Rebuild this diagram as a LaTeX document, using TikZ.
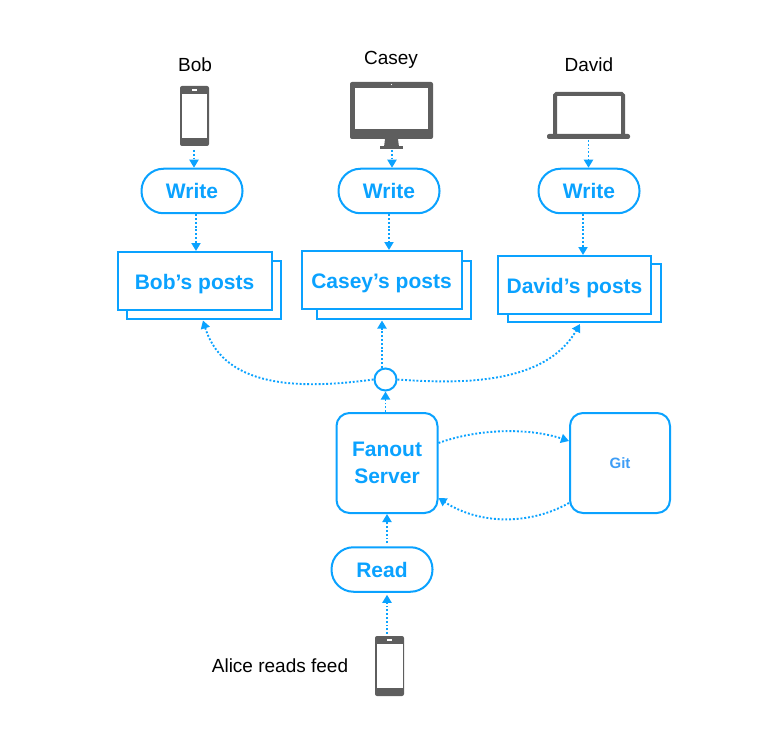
\documentclass[tikz,border=0pt]{standalone}
\usepackage{fontspec}
\setmainfont{Liberation Sans}
\usetikzlibrary{arrows.meta, positioning}
\definecolor{feedblue}{HTML}{0AA2FF}
\definecolor{gitblue}{HTML}{3D9DF6}
\definecolor{devgray}{HTML}{5E5E5E}
\tikzset{
  link/.style={-{Triangle[length=8pt,width=9pt]}, dash pattern=on 1.9pt off 1.9pt, line width=1.9pt, color=feedblue},
  pill box/.style={draw=feedblue, fill=white, rounded corners=22pt, line width=2pt, text=feedblue, font=\bfseries\fontsize{21}{27}\selectfont, minimum width=101pt, minimum height=44.5pt, inner sep=0pt},
  post box/.style={draw=feedblue, fill=white, line width=2pt, text=feedblue, font=\bfseries\fontsize{21}{27}\selectfont, minimum height=58pt, inner sep=0pt, text height=20pt, text depth=3.2pt},
  server box/.style={draw=feedblue, fill=white, rounded corners=13pt, line width=2pt, text=feedblue, font=\bfseries\fontsize{21}{27}\selectfont, align=center, minimum height=100pt, inner sep=0pt},
  person/.style={font=\fontsize{19}{23}\selectfont, text=black, inner sep=0pt},
  device/.style={fill=devgray, draw=none}
}
\begin{document}
\begin{tikzpicture}[x=1pt, y=-1pt]
  \useasboundingbox (0,0) rectangle (777,733);

  %% ---- people ----
  \node[person] (bob) at (195,65) {Bob};
  \node[person] (casey) at (391,59.5) {Casey};
  \node[person] (david) at (589,65) {David};
  \node[person] (alice) at (280,666) {Alice reads feed};

  %% ---- devices ----
  % phone of Bob
  \fill[device, rounded corners=2pt] (180,86) rectangle (209,146);
  \fill[white] (182,94) rectangle (207,138);
  \fill[white] (192,89) rectangle (197,91);
  \coordinate (bobphone) at (194,150);
  % monitor of Casey
  \fill[device, rounded corners=2pt] (350,82) rectangle (433,139);
  \fill[white] (355,88) rectangle (428,129);
  \fill[white] (391.5,84.5) circle (0.7pt);
  \fill[device] (385,139) -- (398,139) -- (399,147) -- (384,147) -- cycle;
  \fill[device] (380,146.5) rectangle (403,149);
  \coordinate (caseyscreen) at (392,150);
  % laptop of David
  \draw[devgray, line width=4pt, rounded corners=1.5pt] (555,135) -- (555,94) -- (623,94) -- (623,135);
  \fill[device, rounded corners=2pt] (547,134) rectangle (630,139);
  \coordinate (davidlaptop) at (588.5,140);
  % phone of Alice
  \fill[device, rounded corners=2pt] (375,636) rectangle (404,696);
  \fill[white] (377,644) rectangle (402.5,688);
  \fill[white] (387,639) rectangle (392,641);
  \coordinate (alicephone) at (387,634);

  %% ---- write boxes ----
  \node[pill box] (writebob) at (192,191) {Write};
  \node[pill box] (writecasey) at (389,191) {Write};
  \node[pill box] (writedavid) at (589,191) {Write};

  %% ---- post stacks ----
  \node[post box, minimum width=154pt] (backbob) at (204,290) {};
  \node[post box, minimum width=154pt] (postsbob) at (194.5,281) {Bob’s posts};
  \node[post box, minimum width=154pt] (backcasey) at (394,290) {};
  \node[post box, minimum width=160pt] (postscasey) at (381.5,280) {Casey’s posts};
  \node[post box, minimum width=153pt] (backdavid) at (584.5,293) {};
  \node[post box, minimum width=153pt] (postsdavid) at (574.5,285) {David’s posts};

  %% ---- server ----
  \node[draw=feedblue, fill=white, circle, line width=2pt, minimum size=22pt, inner sep=0pt] (hub) at (385.5,379.5) {};
  \node[server box, minimum width=101pt] (fanout) at (387,463) {Fanout\\Server};
  \node[server box, minimum width=100pt, text=gitblue, font=\bfseries\fontsize{15}{18}\selectfont] (git) at (620,463) {Git};
  \node[pill box] (read) at (382,569.5) {Read};

  %% ---- links ----
  \draw[link] (bobphone) -- (bobphone |- writebob.north);
  \draw[link] (caseyscreen) -- (caseyscreen |- writecasey.north);
  \draw[link] (davidlaptop) -- (davidlaptop |- writedavid.north);
  \draw[link] ([xshift=4pt]writebob.south) -- ([xshift=1.5pt]postsbob.north);
  \draw[link] (writecasey.south) -- ([xshift=7.5pt]postscasey.north);
  \draw[link] ([xshift=-6pt]writedavid.south) -- ([xshift=8.5pt]postsdavid.north);
  \draw[link] ([xshift=-3.5pt]hub.north) -- (382,320.5);
  \draw[link] (hub.west) .. controls (310,388) and (225,392) .. (203,320.5);
  \draw[link] (hub.east) .. controls (460,384) and (545,385) .. (580,324);
  \draw[link] (fanout.north -| hub) -- (hub.south);
  \draw[link] ([yshift=20pt]fanout.east) .. controls (480,428) and (530,428) .. ([yshift=22pt]git.west);
  \draw[link] ([yshift=-40pt]git.west) .. controls (530,525) and (480,525) .. ([yshift=-35pt]fanout.east);
  \draw[link] ([xshift=5pt,yshift=3pt]read.north) -- (fanout.south);
  \draw[link] (alicephone) -- ([xshift=5pt,yshift=-2pt]read.south);
\end{tikzpicture}
\end{document}
